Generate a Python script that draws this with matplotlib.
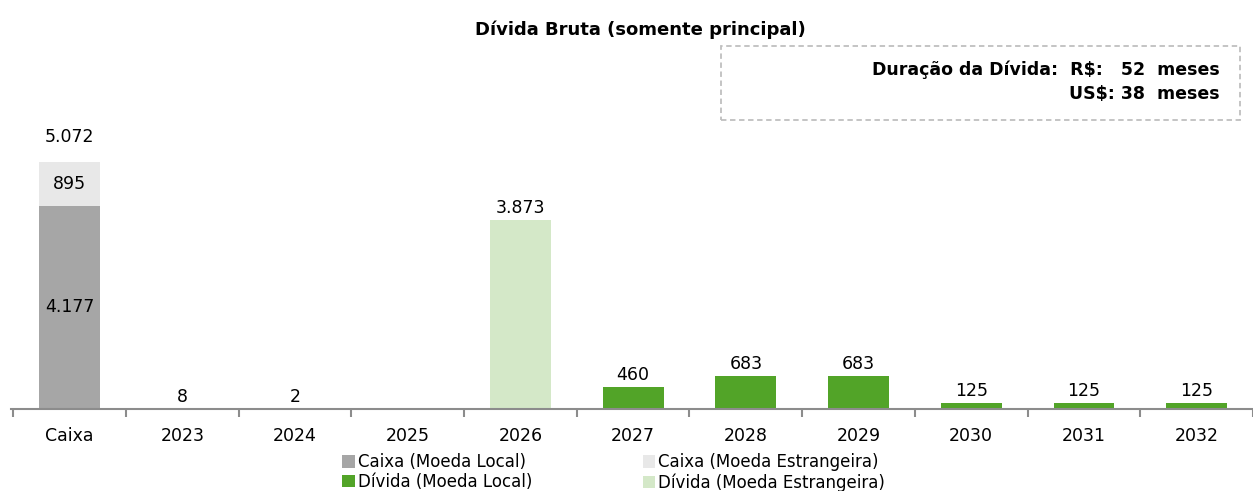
import numpy as np
import matplotlib.pyplot as plt
from matplotlib.patches import Rectangle

plt.rcParams['font.family'] = ['DejaVu Sans']

categorias = ['Caixa', '2023', '2024', '2025', '2026', '2027', '2028', '2029', '2030', '2031', '2032']
caixa_local = [4177, 0, 0, 0, 0, 0, 0, 0, 0, 0, 0]
caixa_estrangeira = [895, 0, 0, 0, 0, 0, 0, 0, 0, 0, 0]
divida_local = [0, 8, 2, 0, 0, 460, 683, 683, 125, 125, 125]
divida_estrangeira = [0, 0, 0, 0, 3873, 0, 0, 0, 0, 0, 0]

def fmt(v):
    return f'{v:,.0f}'.replace(',', '.')

fig = plt.figure(figsize=(12.53, 4.91), dpi=100)
ax = fig.add_axes([11 / 1253, 82 / 491, 1242 / 1253, 309 / 491])

x = np.arange(len(categorias))
w = 0.54
cl = np.array(caixa_local)
ce = np.array(caixa_estrangeira)
dl = np.array(divida_local)
de = np.array(divida_estrangeira)

ax.bar(x, cl, w, color='#a6a6a6', label='Caixa (Moeda Local)')
ax.bar(x, ce, w, bottom=cl, color='#e8e8e8', label='Caixa (Moeda Estrangeira)')
ax.bar(x, dl, w, bottom=cl + ce, color='#52a428', label='Dívida (Moeda Local)')
ax.bar(x, de, w, bottom=cl + ce + dl, color='#d4e8c8', label='Dívida (Moeda Estrangeira)')

ax.set_xlim(-0.52, len(categorias) - 0.5)
ax.set_ylim(0, 6345)

fs = 12.5
# caixa labels
ax.text(0, cl[0] / 2, fmt(cl[0]), ha='center', va='center', fontsize=fs)
ax.text(0, cl[0] + ce[0] / 2, fmt(ce[0]), ha='center', va='center', fontsize=fs)
ax.text(0, cl[0] + ce[0] + 320, fmt(cl[0] + ce[0]), ha='center', va='bottom', fontsize=fs)
for i in range(1, len(categorias)):
    tot = dl[i] + de[i]
    if tot > 0:
        ax.text(i, tot + 60, fmt(tot), ha='center', va='bottom', fontsize=fs)

for s in ['top', 'right', 'left']:
    ax.spines[s].set_visible(False)
ax.spines['bottom'].set_color('#8c8c8c')
ax.spines['bottom'].set_linewidth(1.5)
ax.set_yticks([])
ax.set_xticks(x)
ax.set_xticklabels(categorias, fontsize=fs)
ax.tick_params(axis='x', length=0, pad=13)
ax.set_xticks(np.arange(-0.5, len(categorias), 1), minor=True)
ax.tick_params(axis='x', which='minor', length=6, width=1.5, color='#8c8c8c')

fig.text(640 / 1253, 1 - 30 / 491, 'Dívida Bruta (somente principal)', ha='center', va='center',
         fontsize=13, fontweight='bold')

box = Rectangle((721 / 1253, 1 - 120 / 491), 519 / 1253, 74 / 491, transform=fig.transFigure,
                fill=False, edgecolor='#bfbfbf', linestyle=(0, (3, 2)), linewidth=1.3)
fig.patches.append(box)
fig.text(1220 / 1253, 1 - 70 / 491, 'Duração da Dívida:  R$:   52  meses', ha='right', va='center',
         fontsize=12.5, fontweight='bold')
fig.text(1220 / 1253, 1 - 94 / 491, 'US$: 38  meses', ha='right', va='center',
         fontsize=12.5, fontweight='bold')

h, l = ax.get_legend_handles_labels()
order = [0, 2, 1, 3]
fig.legend([h[i] for i in order], [l[i] for i in order], ncol=2, loc='upper left',
           bbox_to_anchor=(334 / 1253, 1 - 445 / 491), frameon=False, fontsize=12,
           handlelength=0.75, handleheight=0.75, handletextpad=0.2, columnspacing=6.6,
           labelspacing=0.1, borderpad=0)

fig.savefig('out.png', dpi=100)
